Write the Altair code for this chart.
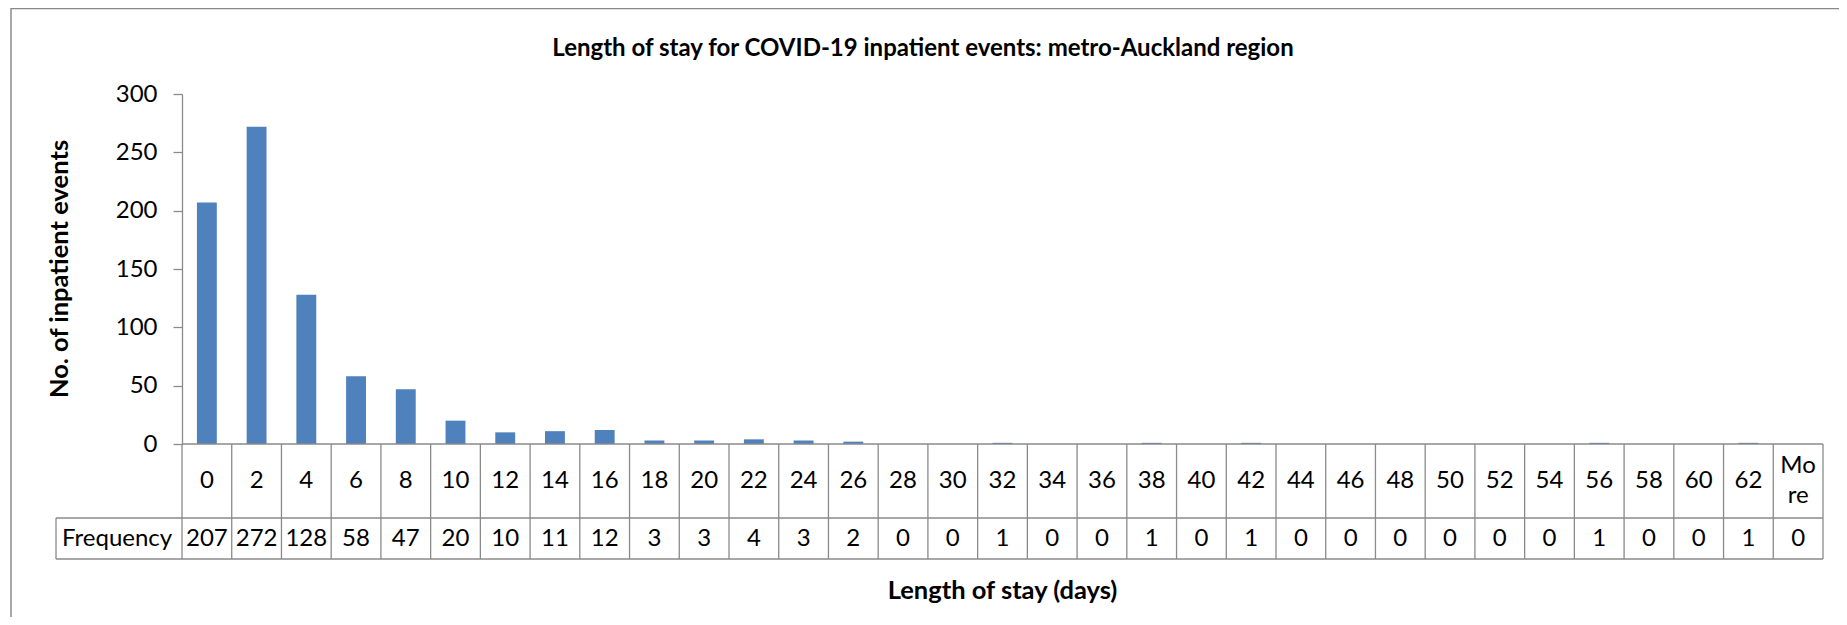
import altair as alt
import pandas as pd

# ---- data ----
categories = ["0", "2", "4", "6", "8", "10", "12", "14", "16", "18", "20", "22",
              "24", "26", "28", "30", "32", "34", "36", "38", "40", "42", "44",
              "46", "48", "50", "52", "54", "56", "58", "60", "62", "More"]
frequencies = [207, 272, 128, 58, 47, 20, 10, 11, 12, 3, 3, 4, 3, 2, 0, 0, 1,
               0, 0, 1, 0, 1, 0, 0, 0, 0, 0, 0, 1, 0, 0, 1, 0]
cell_labels = [c if c != "More" else "Mo\nre" for c in categories]
y_ticks = [0, 50, 100, 150, 200, 250, 300]

title_text = "Length of stay for COVID-19 inpatient events: metro-Auckland region"
y_title = "No. of inpatient events"
x_title = "Length of stay (days)"
row_title = "Frequency"

df = pd.DataFrame({"bin": categories, "freq": frequencies, "label": cell_labels})
one = pd.DataFrame({"k": [0]})

W, H = 1641, 350
FONT = "Lato"
FS = 24
GRID = "#8a8a8a"
BAR = "#4F81BD"
ROW1_BOTTOM = 424
ROW2_BOTTOM = 465
BOX_LEFT = -126
LINE_H = 30

xscale = alt.Scale(domain=categories, paddingInner=0, paddingOuter=0)


def xfield(**kw):
    return alt.X("bin:N", sort=categories, scale=xscale, axis=None, **kw)


bars = alt.Chart(df).mark_bar(color=BAR, width=alt.RelativeBandSize(0.4)).encode(
    x=xfield(),
    y=alt.Y(
        "freq:Q",
        scale=alt.Scale(domain=[0, 300]),
        axis=alt.Axis(
            values=y_ticks, grid=False, title=None,
            domainColor=GRID, domainWidth=1.3, tickColor=GRID, tickWidth=1.3,
            tickSize=9, labelPadding=16, labelFont=FONT, labelFontSize=FS,
            labelColor="black",
        ),
    ),
)

# vertical cell lines (left edge of each cell, plus right edge of the last)
vlines = alt.Chart(df).mark_rule(color=GRID, strokeWidth=1.3).encode(
    x=xfield(bandPosition=0), y=alt.value(H), y2=alt.value(ROW2_BOTTOM)
)
vlast = alt.Chart(df).transform_filter(alt.datum.bin == "More").mark_rule(
    color=GRID, strokeWidth=1.3
).encode(x=xfield(bandPosition=1), y=alt.value(H), y2=alt.value(ROW2_BOTTOM))


def hrule(y, x0, x1, color=GRID, sw=1.3):
    return alt.Chart(one).mark_rule(color=color, strokeWidth=sw).encode(
        x=alt.value(x0), x2=alt.value(x1), y=alt.value(y)
    )


def vrule(x, y0, y1, color=GRID, sw=1.3):
    return alt.Chart(one).mark_rule(color=color, strokeWidth=sw).encode(
        x=alt.value(x), y=alt.value(y0), y2=alt.value(y1)
    )


h_axis = hrule(H, 0, W)
h_mid = hrule(ROW1_BOTTOM, BOX_LEFT, W)
h_bot = hrule(ROW2_BOTTOM, BOX_LEFT, W)
v_box = vrule(BOX_LEFT, ROW1_BOTTOM, ROW2_BOTTOM)

# outer chart frame (left and top edges visible)
frame_top = hrule(-85.5, -171, W + 16, color="#8a8a8a", sw=1.5)
frame_left = vrule(-171, -86, 523, color="#8a8a8a", sw=1.5)

row1_mid = (H + ROW1_BOTTOM) / 2
cat_text = alt.Chart(df).transform_filter(alt.datum.bin != "More").mark_text(
    font=FONT, fontSize=FS, baseline="middle", align="center", color="black"
).encode(x=xfield(), y=alt.value(row1_mid), text="label:N")

more_text = alt.Chart(df).transform_filter(alt.datum.bin == "More").mark_text(
    font=FONT, fontSize=FS, baseline="middle", align="center",
    lineBreak="\n", lineHeight=LINE_H, color="black"
).encode(x=xfield(), y=alt.value(row1_mid - LINE_H / 2), text="label:N")

freq_text = alt.Chart(df).mark_text(
    font=FONT, fontSize=FS, baseline="middle", align="center", color="black"
).encode(x=xfield(), y=alt.value((ROW1_BOTTOM + ROW2_BOTTOM) / 2 + 0.5), text="freq:Q")

row_label = alt.Chart(one).mark_text(
    font=FONT, fontSize=FS, baseline="middle", align="left", color="black"
).encode(x=alt.value(BOX_LEFT + 6), y=alt.value((ROW1_BOTTOM + ROW2_BOTTOM) / 2 + 0.5),
         text=alt.value(row_title))

title = alt.Chart(one).mark_text(
    font=FONT, fontSize=24, fontWeight="bold", baseline="middle", align="center", color="black"
).encode(x=alt.value(741), y=alt.value(-45), text=alt.value(title_text))

ytitle = alt.Chart(one).mark_text(
    font=FONT, fontSize=25.5, fontWeight="bold", baseline="middle", align="center",
    angle=270, color="black"
).encode(x=alt.value(-122), y=alt.value(H / 2), text=alt.value(y_title))

xtitle = alt.Chart(one).mark_text(
    font=FONT, fontSize=25.5, fontWeight="bold", baseline="middle", align="center", color="black"
).encode(x=alt.value(W / 2), y=alt.value(497), text=alt.value(x_title))

chart = alt.layer(
    frame_top, frame_left, bars, vlines, vlast, h_axis, h_mid, h_bot, v_box,
    cat_text, more_text, freq_text, row_label, title, ytitle, xtitle
).properties(
    width=W, height=H,
    padding={"left": 174, "top": 86, "right": 16, "bottom": 173},
    autosize=alt.AutoSizeParams(type="none"),
    background="white",
).configure_view(stroke=None)

chart.save("out.html", embed_options={"renderer": "svg", "actions": False})
